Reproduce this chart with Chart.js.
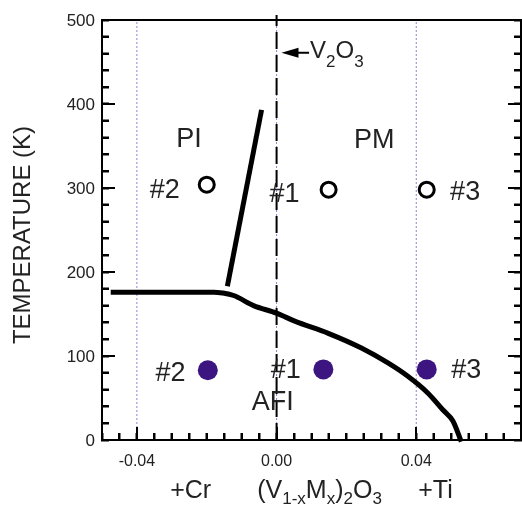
<!DOCTYPE html>
<html>
<head>
<meta charset="utf-8">
<script src="https://cdn.jsdelivr.net/npm/chart.js@4.4.1/dist/chart.umd.min.js"></script>
<style>
  html, body { margin: 0; padding: 0; background: #fff; overflow: hidden; }
  canvas { display: block; }
</style>
</head>
<body>
<canvas id="phase" width="522" height="506"></canvas>
<script>
// Phase diagram of (V1-xMx)2O3

// AFI transition line (Cr plateau, then falling curve on the Ti side)
const afiX = [-0.0475, -0.030, -0.018, -0.0155, -0.0123, -0.0066, 0.0, 0.0052, 0.0148, 0.0243, 0.0319, 0.0376, 0.0433, 0.0476, 0.0505, 0.0529];
const afiT = [176, 176, 176, 175, 172, 160, 151, 141.5, 127, 109.5, 91.7, 75.8, 56, 36, 22.6, -2];

// PI / PM boundary
const pipmX = [-0.0141, -0.0043];
const pipmT = [183, 393];

// samples
const openX = [-0.020, 0.0149, 0.043];
const openT = [304, 298, 298];
const fullX = [-0.0197, 0.0134, 0.043];
const fullT = [83, 84, 84];

// guide compositions (dotted) and pure V2O3 (dashed)
const guideX = [-0.04, 0.0, 0.04];
const pureX = 0.0;

// axis range and tick labels
const xRange = [-0.05, 0.07];
const yRange = [0, 500];
const xLabeled = [-0.04, 0.0, 0.04];
const yLabeled = [0, 100, 200, 300, 400, 500];

// in-plot texts: [text, x, baseline T]
const notes = [
  ['PI', -0.0251, 349],
  ['PM', 0.0280, 348],
  ['#2', -0.0320, 288],
  ['#1', 0.0023, 283],
  ['#3', 0.0540, 286],
  ['#2', -0.0304, 70],
  ['#1', 0.0026, 74],
  ['#3', 0.0543, 74],
  ['AFI', -0.0011, 36]
];

const FONT = '"Liberation Sans", Arial, Helvetica, sans-serif';
const INK = '#222';

function pts(xs, ts) {
  return xs.map((x, i) => ({ x: x, y: ts[i] }));
}

const guideData = [];
guideX.forEach(g => {
  guideData.push({ x: g, y: yRange[0] }, { x: g, y: yRange[1] }, { x: g, y: null });
});

// plot frame, along the axis extents
const frameData = pts(
  [xRange[0], xRange[1], xRange[1], xRange[0], xRange[0]],
  [yRange[0], yRange[0], yRange[1], yRange[1], yRange[0]]
);

// text line with subscripts: [text, isSub]
function drawRich(ctx, parts, x, y, align, size, subSize, drop) {
  ctx.textAlign = 'left';
  ctx.textBaseline = 'alphabetic';
  let total = 0;
  parts.forEach(p => {
    ctx.font = (p[1] ? subSize : size) + 'px ' + FONT;
    total += ctx.measureText(p[0]).width;
  });
  let cx = align === 'center' ? x - total / 2 : x;
  parts.forEach(p => {
    ctx.font = (p[1] ? subSize : size) + 'px ' + FONT;
    ctx.fillText(p[0], cx, p[1] ? y + drop : y);
    cx += ctx.measureText(p[0]).width;
  });
}

// inward ticks (no labels from the library)
const innerGrid = {
  display: true,
  drawOnChartArea: false,
  drawTicks: true,
  tickLength: -7,
  tickWidth: 2,
  tickColor: '#000'
};
const frameBorder = { display: true, width: 2, color: '#000' };

const decor = {
  id: 'decor',
  afterDatasetsDraw(chart) {
    const ctx = chart.ctx;
    const xs = chart.scales.x, ys = chart.scales.y;
    const a = chart.chartArea;

    // ticks: long on labelled values, short otherwise
    ctx.save();
    ctx.setLineDash([]);
    ctx.strokeStyle = '#000';
    ctx.lineWidth = 2;
    ctx.beginPath();
    xs.ticks.forEach(t => {
      const major = xLabeled.some(v => Math.abs(v - t.value) < 1e-9);
      const px = Math.round(xs.getPixelForValue(t.value));
      ctx.moveTo(px, a.bottom);
      ctx.lineTo(px, a.bottom - (major ? 13 : 7));
    });
    ys.ticks.forEach(t => {
      const len = yLabeled.includes(t.value) ? 13 : 7;
      const py = Math.round(ys.getPixelForValue(t.value));
      ctx.moveTo(a.left, py);
      ctx.lineTo(a.left + len, py);
      ctx.moveTo(a.right, py);
      ctx.lineTo(a.right - len, py);
    });
    ctx.stroke();
    ctx.restore();

    ctx.save();
    ctx.fillStyle = INK;

    // tick labels
    ctx.font = '16px ' + FONT;
    ctx.textAlign = 'center';
    ctx.textBaseline = 'alphabetic';
    xLabeled.forEach(v => {
      const txt = Math.abs(v) < 1e-9 ? '0.00' : v.toFixed(2);
      ctx.fillText(txt, xs.getPixelForValue(v), a.bottom + 26);
    });
    ctx.font = '17px ' + FONT;
    ctx.textAlign = 'right';
    ctx.textBaseline = 'middle';
    yLabeled.forEach(v => {
      ctx.fillText(String(v), a.left - 7, ys.getPixelForValue(v) + 1);
    });

    // region / sample labels
    ctx.font = '27px ' + FONT;
    ctx.textAlign = 'center';
    ctx.textBaseline = 'alphabetic';
    notes.forEach(n => {
      ctx.fillText(n[0], xs.getPixelForValue(n[1]), ys.getPixelForValue(n[2]));
    });

    // V2O3 arrow
    const tipX = xs.getPixelForValue(0.0014);
    const tailX = xs.getPixelForValue(0.0093);
    const ay = ys.getPixelForValue(461);
    ctx.fillStyle = '#000';
    ctx.beginPath();
    ctx.moveTo(tipX, ay);
    ctx.lineTo(tipX + 17, ay - 5);
    ctx.lineTo(tipX + 17, ay + 5);
    ctx.closePath();
    ctx.fill();
    ctx.strokeStyle = '#000';
    ctx.lineWidth = 2;
    ctx.beginPath();
    ctx.moveTo(tipX + 15, ay);
    ctx.lineTo(tailX, ay);
    ctx.stroke();
    ctx.fillStyle = INK;
    drawRich(ctx, [['V', 0], ['2', 1], ['O', 0], ['3', 1]], tailX + 1, ay + 5, 'left', 24, 17, 9);

    // x axis title
    const by = 498;
    ctx.font = '25px ' + FONT;
    ctx.textAlign = 'center';
    ctx.textBaseline = 'alphabetic';
    ctx.fillText('+Cr', xs.getPixelForValue(-0.0246), by);
    ctx.fillText('+Ti', xs.getPixelForValue(0.0455), by);
    drawRich(ctx, [['(V', 0], ['1-x', 1], ['M', 0], ['x', 1], [')', 0], ['2', 1], ['O', 0], ['3', 1]],
      xs.getPixelForValue(0.0123), by, 'center', 25, 17, 6);
    ctx.restore();

    // y axis title
    ctx.save();
    ctx.fillStyle = INK;
    ctx.font = '24px ' + FONT;
    ctx.textAlign = 'center';
    ctx.textBaseline = 'middle';
    ctx.translate(23, (a.top + a.bottom) / 2 + 5);
    ctx.rotate(-Math.PI / 2);
    ctx.fillText('TEMPERATURE (K)', 0, 0);
    ctx.restore();
  }
};

new Chart(document.getElementById('phase'), {
  type: 'scatter',
  data: {
    datasets: [
      {
        data: pts(fullX, fullT),
        pointRadius: 10,
        backgroundColor: '#3d1580',
        borderWidth: 0,
        showLine: false
      },
      {
        data: pts(openX, openT),
        pointRadius: 7.5,
        backgroundColor: '#fff',
        borderColor: '#000',
        borderWidth: 3,
        showLine: false
      },
      {
        data: pts(afiX, afiT),
        showLine: true,
        borderColor: '#000',
        borderWidth: 5,
        pointRadius: 0,
        cubicInterpolationMode: 'monotone',
        clip: false
      },
      {
        data: pts(pipmX, pipmT),
        showLine: true,
        borderColor: '#000',
        borderWidth: 5,
        pointRadius: 0
      },
      {
        data: [{ x: pureX, y: 0 }, { x: pureX, y: 506 }],
        showLine: true,
        borderColor: '#000',
        borderWidth: 2,
        borderDash: [17, 6],
        pointRadius: 0,
        clip: false
      },
      {
        data: guideData,
        showLine: true,
        spanGaps: false,
        borderColor: '#8f80d6',
        borderWidth: 1,
        borderDash: [2, 2],
        pointRadius: 0
      },
      {
        data: frameData,
        showLine: true,
        borderColor: '#000',
        borderWidth: 2,
        pointRadius: 0,
        tension: 0,
        clip: false
      }
    ]
  },
  options: {
    responsive: false,
    animation: false,
    devicePixelRatio: 1,
    layout: { autoPadding: false, padding: { top: 20, right: 1, left: 0, bottom: 0 } },
    plugins: {
      legend: { display: false },
      tooltip: { enabled: false }
    },
    scales: {
      x: {
        type: 'linear',
        position: 'bottom',
        min: xRange[0],
        max: xRange[1],
        grid: innerGrid,
        border: frameBorder,
        afterFit: s => { s.height = 66; },
        ticks: { display: false, stepSize: 0.005, autoSkip: false, maxRotation: 0 }
      },
      y: {
        type: 'linear',
        position: 'left',
        min: yRange[0],
        max: yRange[1],
        grid: innerGrid,
        border: frameBorder,
        afterFit: s => { s.width = 102; },
        ticks: { display: false, stepSize: 20, autoSkip: false }
      },
      y2: {
        type: 'linear',
        position: 'right',
        min: yRange[0],
        max: yRange[1],
        grid: innerGrid,
        border: frameBorder,
        afterFit: s => { s.width = 0; },
        ticks: { display: false, stepSize: 20, autoSkip: false }
      }
    }
  },
  plugins: [decor]
});
</script>
</body>
</html>
